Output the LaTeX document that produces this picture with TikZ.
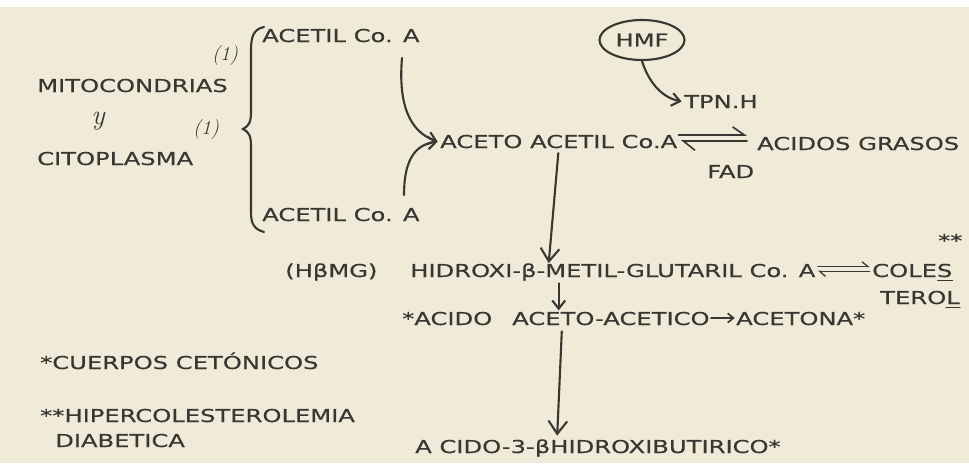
\documentclass[tikz,border=0pt]{standalone}
\usepackage{fontspec}
\usepackage{tikz}
\usetikzlibrary{arrows.meta,positioning,shapes.geometric}
\newfontfamily\maquina{DejaVu Sans}[FakeStretch=1.36,FakeBold=0.4]
\definecolor{papel}{RGB}{240,234,216}
\definecolor{tinta}{RGB}{58,55,50}

\begin{document}
\begin{tikzpicture}[
    x=0.03cm, y=-0.03cm,
    every node/.style={font=\maquina\fontsize{15.2}{18}\selectfont,
        text=tinta, inner sep=0pt, anchor=base west},
    mano/.style={font=\itshape\fontsize{17}{19}\selectfont},
    trazo/.style={draw=tinta, line width=1.8pt, line cap=round},
    flecha/.style={trazo, -{Straight Barb[length=11pt,width=16pt,line width=1.8pt]}},
    flechita/.style={trazo, -{Straight Barb[length=7pt,width=11pt,line width=1.8pt]}},
    arpon/.style={trazo, line width=1.4pt}
]

% Paper
\fill[white] (0,0) rectangle (969,463);
\fill[papel] (0,7) rectangle (969,463);
\useasboundingbox (0,0) rectangle (969,463);

% Left side
\node (mito) at (37,92) {MITOCONDRIAS};
\node[font=\itshape\fontsize{24}{26}\selectfont, anchor=center] (yand) at (98,121) {y};
\node (cito) at (37,165) {CITOPLASMA};
\node[mano] (uno1) at (212,60) {(1)};
\node[mano] (uno2) at (193,134) {(1)};

% Brace
\draw[trazo] (264,27) .. controls (254,29) and (251,36) .. (251,50)
    -- (251,112) .. controls (251,122) and (249,126) .. (243,129)
    .. controls (249,132) and (251,136) .. (251,146)
    -- (251,212) .. controls (251,224) and (254,229) .. (264,232);

\node (acetil1) at (262,42) {ACETIL Co. A};
\node (acetil2) at (262,221) {ACETIL Co. A};

% Aceto acetil
\node (aceto) at (440,148) {ACETO ACETIL Co.A};
\coordinate (arr1) at (402,58);
\coordinate (abj1) at (404,195);
\draw[flechita] (arr1) .. controls (398,105) and (410,132) .. ([xshift=-2pt]aceto.west);
\draw[flechita] (abj1) .. controls (404,165) and (412,145) .. ([xshift=-2pt]aceto.west);

% HMF
\node[draw=tinta, line width=1.8pt, ellipse, anchor=center,
    minimum width=2.55cm, minimum height=1.2cm] (hmf) at (642,40) {HMF};
\node (tpn) at (684,108) {TPN.H};
\draw[flechita] (hmf.south) .. controls (648,80) and (660,97) .. ([xshift=-2pt]tpn.west);

\node (grasos) at (757,150) {ACIDOS GRASOS};
\draw[arpon, -{Straight Barb[harpoon,length=10pt,width=14pt,line width=1.4pt]}]
    ([yshift=11pt,xshift=1pt]aceto.base east) -- ([yshift=11pt,xshift=-0.3cm]aceto.base east -| grasos.west);
\draw[arpon, {Straight Barb[harpoon,length=10pt,width=16pt,line width=1.4pt]}-]
    ([yshift=6pt,xshift=3pt]aceto.base east) -- ([yshift=6pt,xshift=-0.3cm]aceto.base east -| grasos.west);
\node (fad) at (707,178) {FAD};

% HMG
\node (hbmg) at (285,277) {(HβMG)};
\node (hidroxi) at (410,277) {HIDROXI-β-METIL-GLUTARIL Co. A};
\draw[flecha, shorten <=4pt] (aceto.south) -- ([xshift=-0.3cm]aceto.south |- hidroxi.north);
\node (coles) at (872,277) {COLES};
\node[anchor=base east] (terol) at (960,304) {TEROL};
\node (dstar) at (938,247) {**};
\draw[trazo, line width=1pt] ([xshift=-0.45cm,yshift=-3pt]coles.base east) -- ([yshift=-3pt]coles.base east);
\draw[trazo, line width=1pt] ([xshift=-0.42cm,yshift=-3pt]terol.base east) -- ([yshift=-3pt]terol.base east);
\draw[arpon, line width=1.1pt, -{Straight Barb[harpoon,length=5pt,width=8pt,line width=1.1pt]}]
    ([yshift=9pt,xshift=2pt]hidroxi.base east) -- ([yshift=9pt,xshift=-2pt]coles.base west);
\draw[arpon, line width=1.1pt, {Straight Barb[harpoon,length=5pt,width=9pt,line width=1.1pt]}-]
    ([yshift=5pt,xshift=2pt]hidroxi.base east) -- ([yshift=5pt,xshift=-2pt]coles.base west);

% Acido aceto-acetico
\node (acido) at (402,325) {*ACIDO};
\node (acetoac) at (512,325) {ACETO-ACETICO};
\node (acetona) at (736,325) {ACETONA*};
\draw[trazo, line width=1.4pt, -{Straight Barb[length=5pt,width=8pt,line width=1.4pt]}]
    ([xshift=1pt,yshift=6pt]acetoac.base east) -- ([xshift=-1pt,yshift=6pt]acetona.base west);
\draw[flechita, shorten <=2pt, shorten >=1pt] (aceto.south |- hidroxi.south) -- (aceto.south |- acetoac.north);

% Hidroxibutirico
\node (butir) at (415,453) {A CIDO-3-βHIDROXIBUTIRICO*};
\draw[flecha, shorten <=5pt, shorten >=3pt] ([xshift=0.1cm]aceto.south |- acetoac.south) -- ([xshift=-0.05cm]aceto.south |- butir.north);

% Notes
\node (cuerpos) at (40,369) {*CUERPOS CETÓNICOS};
\node (hiper) at (40,422) {**HIPERCOLESTEROLEMIA};
\node (diab) at (55,447) {DIABETICA};

\end{tikzpicture}
\end{document}
